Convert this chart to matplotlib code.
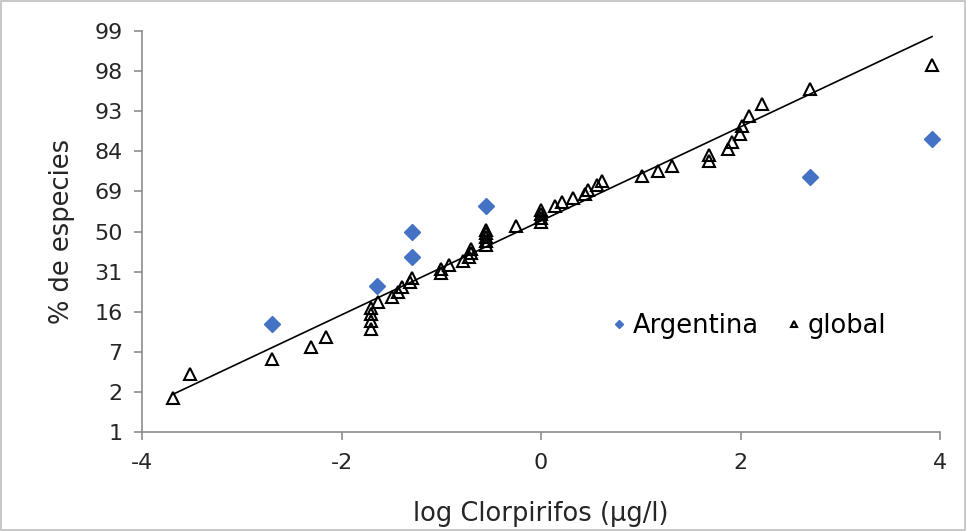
import matplotlib
matplotlib.use("Agg")
import matplotlib.pyplot as plt
from matplotlib.patches import Rectangle

# Argentina (log conc, probit z)
arg_x = [-2.70, -1.64, -1.29, -1.29, -0.55, 2.70, 3.92]
arg_z = [-1.150, -0.674, -0.319, 0.0, 0.319, 0.674, 1.150]

# global species sensitivity data
glob_x = [-3.69, -3.52, -2.70, -2.31, -2.16, -1.70, -1.70, -1.70, -1.70, -1.63,
          -1.49, -1.43, -1.39, -1.31, -1.29, -1.00, -1.00, -0.92, -0.78, -0.72,
          -0.70, -0.70, -0.55, -0.55, -0.55, -0.55, -0.55, -0.25, 0.00, 0.00,
          0.00, 0.00, 0.14, 0.21, 0.32, 0.44, 0.47, 0.56, 0.61, 1.01,
          1.17, 1.31, 1.68, 1.68, 1.87, 1.91, 1.99, 2.02, 2.09, 2.22,
          2.70, 3.92]
glob_z = [-2.078, -1.777, -1.585, -1.436, -1.314, -1.210, -1.117, -1.032, -0.955, -0.882,
          -0.815, -0.751, -0.690, -0.631, -0.574, -0.519, -0.466, -0.413, -0.362, -0.312,
          -0.263, -0.214, -0.166, -0.118, -0.071, -0.024, 0.024, 0.071, 0.118, 0.166,
          0.214, 0.263, 0.312, 0.362, 0.413, 0.466, 0.519, 0.574, 0.631, 0.690,
          0.751, 0.815, 0.882, 0.955, 1.032, 1.117, 1.210, 1.314, 1.436, 1.585,
          1.777, 2.078]

# fitted line
line_x = [-3.69, 3.92]
line_z = [-2.03, 2.43]

ytick_pos = [-2.5, -2.0, -1.5, -1.0, -0.5, 0.0, 0.5, 1.0, 1.5, 2.0, 2.5]
ytick_lab = ['1', '2', '7', '16', '31', '50', '69', '84', '93', '98', '99']
xticks = [-4, -2, 0, 2, 4]

plt.rcParams['font.family'] = ['DejaVu Sans']

fig = plt.figure(figsize=(9.67, 5.31), dpi=100)
ax = fig.add_axes([142/967, 1 - 432/531, 798/967, 401/531])

ax.plot(line_x, line_z, color='black', lw=1.2, zorder=2)
ax.plot(glob_x, glob_z, linestyle='none', marker='^', markersize=9,
        markerfacecolor='none', markeredgecolor='black', markeredgewidth=1.5,
        label='global', zorder=3)
ax.plot(arg_x, arg_z, linestyle='none', marker='D', markersize=8,
        color='#4472c4', label='Argentina', zorder=4)

ax.set_xlim(-4, 4)
ax.set_ylim(-2.5, 2.5)
ax.set_xticks(xticks)
ax.set_xticklabels([str(v) for v in xticks])
ax.set_yticks(ytick_pos)
ax.set_yticklabels(ytick_lab)

for s in ['top', 'right']:
    ax.spines[s].set_visible(False)
for s in ['left', 'bottom']:
    ax.spines[s].set_color('#8c8c8c')
    ax.spines[s].set_linewidth(1.2)
ax.tick_params(direction='out', length=6, color='#8c8c8c', width=1.2,
               labelsize=16, labelcolor='#262626')
ax.tick_params(axis='x', pad=9)
ax.tick_params(axis='y', pad=8)

ax.set_xlabel('log Clorpirifos (µg/l)', fontsize=18.5, color='#262626', labelpad=20)
ax.set_ylabel('% de especies', fontsize=18.5, color='#262626', labelpad=14)

h, l = ax.get_legend_handles_labels()
ax.legend(h[::-1], l[::-1], loc='center', bbox_to_anchor=(0.761, 0.264), ncol=2,
          frameon=False, fontsize=18.5, markerscale=0.55, handlelength=0.5,
          handletextpad=0.3, columnspacing=1.1)

fig.patches.append(Rectangle((0.001, 0.002), 0.997, 0.996, transform=fig.transFigure,
                             fill=False, edgecolor='#bfbfbf', lw=1.2))

fig.savefig('out.png', dpi=100)
